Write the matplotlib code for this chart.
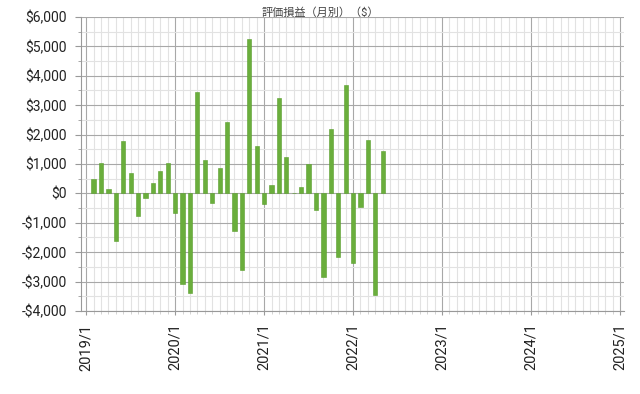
import matplotlib
matplotlib.use("Agg")
import matplotlib.pyplot as plt
from matplotlib.ticker import MultipleLocator, FuncFormatter

plt.rcParams['font.family'] = ['Roboto', 'Noto Sans CJK JP', 'DejaVu Sans']

# monthly values, 2019/2 .. 2022/5
months = [f"{y}/{m}" for y in (2019, 2020, 2021, 2022) for m in range(1, 13)][1:41]
values = [500, 1030, 140, -1620, 1770, 690, -770, -170, 365, 775, 1020, -655,
          -3075, -3390, 3450, 1135, -317, 850, 2415, -1265, -2615, 5235, 1620, -345,
          296, 3255, 1225, 0, 230, 990, -550, -2855, 2200, -2160, 3673, -2360,
          -460, 1826, -3455, 1430]
year_labels = ["2019/1", "2020/1", "2021/1", "2022/1", "2023/1", "2024/1", "2025/1"]


def month_index(label):
    y, m = label.split("/")
    return (int(y) - 2019) * 12 + int(m) - 1


x = [month_index(s) for s in months]

fig = plt.figure(figsize=(6.4, 3.94), dpi=100)
ax = fig.add_axes([81 / 640, 1 - 311 / 394, (624 - 81) / 640, (311 - 17) / 394])

ax.bar(x, values, width=0.57, color='#6aae3c', edgecolor='#5a9e2c', linewidth=0.4, zorder=3)

ax.set_xlim(-0.7, 72.55)
ax.set_ylim(-4000, 6000)

ax.set_xticks([month_index(s) for s in year_labels])
ax.set_xticklabels(year_labels, rotation=90)
ax.xaxis.set_minor_locator(MultipleLocator(1))
ax.yaxis.set_major_locator(MultipleLocator(1000))
ax.yaxis.set_minor_locator(MultipleLocator(500))
ax.yaxis.set_major_formatter(FuncFormatter(lambda v, p: f"${v:,.0f}" if v >= 0 else f"-${-v:,.0f}"))

ax.grid(which='major', color='#a8a8a8', linewidth=0.8, zorder=1)
ax.grid(which='minor', color='#e2e2e2', linewidth=0.8, zorder=0)
ax.set_axisbelow(True)

for s in ('top', 'right'):
    ax.spines[s].set_visible(False)
for s in ('left', 'bottom'):
    ax.spines[s].set_color('#999999')
    ax.spines[s].set_linewidth(0.8)

ax.tick_params(axis='y', which='major', length=4, color='#999999', labelsize=10, labelcolor='#222222', pad=6)
ax.tick_params(axis='y', which='minor', length=2, color='#999999')
ax.tick_params(axis='x', which='major', length=3, color='#999999', labelsize=10.5, labelcolor='#222222', pad=6)
ax.tick_params(axis='x', which='minor', length=2, color='#cccccc')

fig.text(0.5, 1 - 13 / 394, "評価損益（月別）（$）", ha='center', va='center', fontsize=8, color='#444444')

fig.savefig("out.png", dpi=100)
